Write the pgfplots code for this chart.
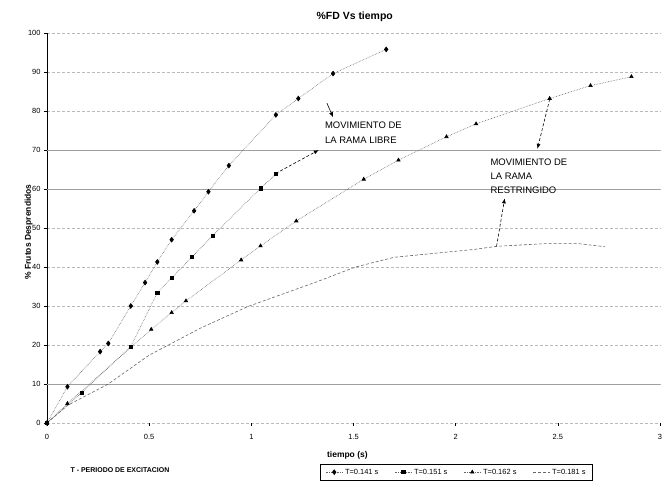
\documentclass[border=0pt]{standalone}
\usepackage{pgfplots}
\pgfplotsset{compat=1.18}
\usepackage{fontspec}
\setmainfont{Liberation Sans}
\usetikzlibrary{arrows.meta}

\begin{document}
\begin{tikzpicture}
\begin{axis}[
  scale only axis,
  width=613bp, height=390bp,
  xmin=0, xmax=3, ymin=0, ymax=100,
  xtick={0,0.5,1,1.5,2,2.5,3},
  xticklabels={0,0.5,1,1.5,2,2.5,3},
  ytick={0,10,...,100},
  axis y line=left, axis x line=bottom,
  x axis line style={draw=none, -},
  y axis line style={black, line width=0.6pt, -},
  tick align=outside,
  major tick length=3bp,
  tick style={black, line width=0.5pt},
  /pgf/number format/assume math mode=true,
  ticklabel style={font=\fontsize{7.5}{8}\selectfont},
  xticklabel style={yshift=-5bp},
  ymajorgrids,
  major grid style={gray!55, densely dashed, line width=0.5pt},
  extra y ticks={10,60,70},
  extra y tick labels={},
  extra y tick style={grid=major, major grid style={gray!75, solid, line width=0.7pt}},
  clip=false,
  title={\textbf{\%FD Vs tiempo}},
  title style={font=\fontsize{10.5}{12}\selectfont, at={(axis description cs:0.502,1.026)}, anchor=center},
  xlabel={\textbf{tiempo (s)}},
  xlabel style={font=\fontsize{8.5}{10}\selectfont, at={(axis description cs:0.49,-0.082)}, anchor=center},
  ylabel={\textbf{\% Frutos Desprendidos}},
  ylabel style={font=\fontsize{8.5}{10}\selectfont, at={(axis description cs:-0.03,0.49)}, anchor=center, rotate=0},
  legend columns=4,
  legend style={at={(axis description cs:0.668,-0.126)}, anchor=center,
    font=\fontsize{7.5}{9}\selectfont, draw=black, line width=0.5pt,
    inner xsep=5bp, inner ysep=3bp,
    /tikz/every even column/.append style={column sep=14bp}},
  every axis plot/.append style={line width=0.6pt},
]

% T = 0.141 s
\addplot[gray!80!black, densely dotted, mark=diamond*, mark size=2.4pt,
  mark options={solid, fill=black, draw=black}]
  coordinates {(0,0) (0.10,9.3) (0.26,18.3) (0.30,20.4) (0.41,30) (0.48,36)
    (0.54,41.3) (0.61,47) (0.72,54.4) (0.79,59.3) (0.89,66) (1.12,79)
    (1.23,83.2) (1.40,89.6) (1.66,95.8)};
\addlegendentry{T=0.141 s}

% T = 0.151 s
\addplot[gray!80!black, densely dotted, mark=square*, mark size=1.6pt,
  mark options={solid, fill=black, draw=black}]
  coordinates {(0,0) (0.17,7.8) (0.41,19.6) (0.54,33.4) (0.61,37.2)
    (0.71,42.6) (0.81,48) (1.045,60.2) (1.12,63.8)};
\addlegendentry{T=0.151 s}

% T = 0.162 s
\addplot[gray!80!black, densely dotted, mark=triangle*, mark size=2pt,
  mark options={solid, fill=black, draw=black}]
  coordinates {(0,0) (0.10,5) (0.51,24) (0.61,28.3) (0.68,31.3) (0.95,41.8)
    (1.045,45.4) (1.22,51.8) (1.55,62.5) (1.72,67.4) (1.955,73.4) (2.10,76.7)
    (2.46,83.2) (2.66,86.5) (2.86,88.8)};
\addlegendentry{T=0.162 s}

% T = 0.181 s
\addplot[gray!80!black, densely dashed, no markers]
  coordinates {(0,0) (0.10,4.5) (0.30,10) (0.50,17.4) (0.58,19.6) (0.75,24.3)
    (0.98,29.8) (1.32,36.2) (1.51,40) (1.70,42.5) (2.09,44.5) (2.20,45.3)
    (2.44,46) (2.60,46) (2.73,45.2)};
\addlegendentry{T=0.181 s}

% annotations
\node[anchor=north west, align=left, inner sep=0pt,
  font=\fontsize{9.5}{15}\selectfont] at (axis cs:1.36,77.2)
  {MOVIMIENTO DE\\LA RAMA LIBRE};
\node[anchor=north west, align=left, inner sep=0pt,
  font=\fontsize{9.5}{14}\selectfont] at (axis cs:2.17,67.8)
  {MOVIMIENTO DE\\LA RAMA\\RESTRINGIDO};

\draw[-{Latex[length=5bp,width=4bp]}, densely dashed, line width=0.6pt]
  (axis cs:1.12,64) -- (axis cs:1.33,70);
\draw[-{Latex[length=5bp,width=4bp]}, line width=0.6pt]
  (axis cs:1.37,82) -- (axis cs:1.40,78.4);
\draw[-{Latex[length=5bp,width=4bp]}, densely dashed, line width=0.6pt]
  (axis cs:2.46,83) -- (axis cs:2.40,70.3);
\draw[-{Latex[length=5bp,width=4bp]}, densely dashed, line width=0.6pt]
  (axis cs:2.20,45.3) -- (axis cs:2.24,57.6);

\node[font=\fontsize{7}{8}\selectfont\bfseries, anchor=center]
  at (axis description cs:0.119,-0.12) {T - PERIODO DE EXCITACION};
\end{axis}
\pgfresetboundingbox
\useasboundingbox (-47bp,-67bp) rectangle (622bp,423bp);
\end{tikzpicture}
\end{document}
